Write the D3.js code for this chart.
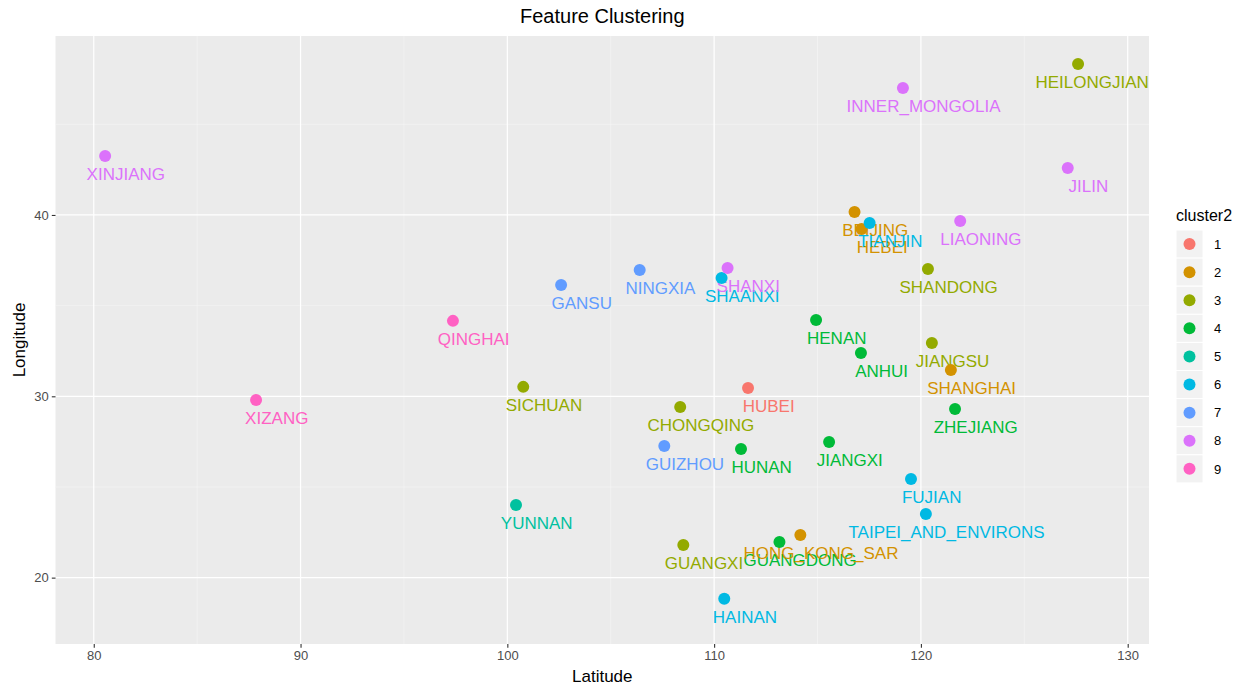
<!DOCTYPE html>
<html>
<head>
<meta charset="utf-8">
<script src="https://cdn.jsdelivr.net/npm/d3@7"></script>
<style>
  body { margin: 0; background: #fff; }
  svg text { font-family: "Liberation Sans", Arial, sans-serif; }
</style>
</head>
<body>
<svg id="chart" width="1247" height="689"></svg>
<script>
// provinces with their position and cluster
const provinces = ["XINJIANG", "XIZANG", "QINGHAI", "GANSU", "NINGXIA", "SHAANXI", "SHANXI",
	"SICHUAN", "CHONGQING", "GUIZHOU", "YUNNAN", "GUANGXI", "HAINAN", "GUANGDONG",
	"HONG_KONG_SAR", "HUNAN", "HUBEI", "JIANGXI", "HENAN", "ANHUI", "FUJIAN",
	"TAIPEI_AND_ENVIRONS", "ZHEJIANG", "SHANGHAI", "JIANGSU", "SHANDONG", "BEIJING",
	"HEBEI", "TIANJIN", "LIAONING", "INNER_MONGOLIA", "HEILONGJIANG", "JILIN"];
const latitude = [80.55, 87.85, 97.37, 102.6, 106.4, 110.36, 110.65,
	100.77, 108.36, 107.59, 100.42, 108.51, 110.49, 113.16,
	114.17, 111.3, 111.64, 115.56, 114.93, 117.1, 119.52,
	120.24, 121.65, 121.45, 120.53, 120.34, 116.79,
	117.13, 117.52, 121.9, 119.13, 127.6, 127.1];
const longitude = [43.25, 29.8, 34.16, 36.14, 36.97, 36.53, 37.08,
	30.52, 29.41, 27.26, 24.01, 21.8, 18.83, 21.97,
	22.35, 27.1, 30.46, 27.48, 34.21, 32.39, 25.44,
	23.51, 29.3, 31.45, 32.94, 37.02, 40.17,
	39.23, 39.56, 39.67, 47.0, 48.33, 42.59];
const cluster = [8, 9, 9, 7, 7, 6, 8,
	3, 3, 7, 5, 3, 6, 4,
	2, 4, 1, 4, 4, 4, 6,
	6, 4, 2, 3, 3, 2,
	2, 6, 8, 8, 3, 8];

const clusters = [1, 2, 3, 4, 5, 6, 7, 8, 9];
const palette = ["#F8766D", "#D39200", "#93AA00", "#00BA38", "#00C19F", "#00B9E3", "#619CFF", "#DB72FB", "#FF61C3"];
const xTicks = [80, 90, 100, 110, 120, 130];
const yTicks = [20, 30, 40];
const xMinor = [85, 95, 105, 115, 125];
const yMinor = [25, 35, 45];

const data = provinces.map((name, i) => ({
	name: name, x: latitude[i], y: longitude[i], cluster: cluster[i]
}));

const panel = { left: 55.5, right: 1149, top: 36, bottom: 644 };

var svg = d3.select("#chart");

let x = d3.scaleLinear().domain([78.15, 131.03]).range([panel.left, panel.right]);
let y = d3.scaleLinear().domain([16.34, 49.87]).range([panel.bottom, panel.top]);
let color = d3.scaleOrdinal().domain(clusters).range(palette);

// panel background
svg.append("rect")
	.attr("x", panel.left).attr("y", panel.top)
	.attr("width", panel.right - panel.left)
	.attr("height", panel.bottom - panel.top)
	.attr("fill", "#ebebeb");

svg.append("clipPath").attr("id", "clip")
	.append("rect")
	.attr("x", panel.left).attr("y", panel.top)
	.attr("width", panel.right - panel.left)
	.attr("height", panel.bottom - panel.top);

// grid lines
const grid = svg.append("g");
grid.selectAll(".minor-x").data(xMinor).enter().append("line")
	.attr("x1", d => x(d)).attr("x2", d => x(d))
	.attr("y1", panel.top).attr("y2", panel.bottom)
	.attr("stroke", "#f7f7f7").attr("stroke-width", 0.6);
grid.selectAll(".minor-y").data(yMinor).enter().append("line")
	.attr("y1", d => y(d)).attr("y2", d => y(d))
	.attr("x1", panel.left).attr("x2", panel.right)
	.attr("stroke", "#f7f7f7").attr("stroke-width", 0.6);
grid.selectAll(".major-x").data(xTicks).enter().append("line")
	.attr("x1", d => x(d)).attr("x2", d => x(d))
	.attr("y1", panel.top).attr("y2", panel.bottom)
	.attr("stroke", "#fff").attr("stroke-width", 1.2);
grid.selectAll(".major-y").data(yTicks).enter().append("line")
	.attr("y1", d => y(d)).attr("y2", d => y(d))
	.attr("x1", panel.left).attr("x2", panel.right)
	.attr("stroke", "#fff").attr("stroke-width", 1.2);

// axes
const xAxis = svg.append("g")
	.attr("transform", `translate(0,${panel.bottom})`)
	.call(d3.axisBottom(x).tickValues(xTicks).tickSize(3.7).tickPadding(3));
const yAxis = svg.append("g")
	.attr("transform", `translate(${panel.left},0)`)
	.call(d3.axisLeft(y).tickValues(yTicks).tickSize(3.7).tickPadding(3));
for (let ax of [xAxis, yAxis]) {
	ax.select(".domain").remove();
	ax.selectAll(".tick line").attr("stroke", "#333").attr("stroke-width", 1.1);
	ax.selectAll(".tick text").attr("fill", "#4d4d4d").style("font-size", "13px")
		.style("font-family", '"Liberation Sans", Arial, sans-serif');
}

// labels then points, clipped to the panel
const plot = svg.append("g").attr("clip-path", "url(#clip)");

plot.selectAll(".label")
	.data(data)
	.enter()
	.append("text")
	.attr("class", "label")
	.attr("x", d => x(d.x + 1))
	.attr("y", d => y(d.y - 1))
	.attr("dy", "0.36em")
	.attr("text-anchor", "middle")
	.attr("fill", d => color(d.cluster))
	.style("font-size", "17px")
	.text(d => d.name);

plot.selectAll(".dot")
	.data(data)
	.enter()
	.append("circle")
	.attr("class", "dot")
	.attr("cx", d => x(d.x))
	.attr("cy", d => y(d.y))
	.attr("r", 6)
	.attr("fill", d => color(d.cluster));

// titles
svg.append("text")
	.attr("x", (panel.left + panel.right) / 2).attr("y", 23)
	.attr("text-anchor", "middle")
	.attr("fill", "#000")
	.style("font-size", "20px")
	.text("Feature Clustering");

svg.append("text")
	.attr("x", (panel.left + panel.right) / 2).attr("y", 682)
	.attr("text-anchor", "middle")
	.attr("fill", "#000")
	.style("font-size", "17px")
	.text("Latitude");

svg.append("text")
	.attr("transform", `translate(25,${(panel.top + panel.bottom) / 2}) rotate(-90)`)
	.attr("text-anchor", "middle")
	.attr("fill", "#000")
	.style("font-size", "17px")
	.text("Longitude");

// legend
const legend = svg.append("g").attr("transform", "translate(1176,230)");
legend.append("text")
	.attr("x", 0).attr("y", -9)
	.attr("fill", "#000")
	.style("font-size", "16px")
	.text("cluster2");

const keyH = 28.1;
const keys = legend.selectAll(".key")
	.data(clusters)
	.enter()
	.append("g")
	.attr("class", "key")
	.attr("transform", (d, i) => `translate(0,${i * keyH})`);
keys.append("rect")
	.attr("width", 27).attr("height", keyH)
	.attr("fill", "#f2f2f2")
	.attr("stroke", "#fff").attr("stroke-width", 1);
keys.append("circle")
	.attr("cx", 13.5).attr("cy", keyH / 2)
	.attr("r", 6)
	.attr("fill", d => color(d));
keys.append("text")
	.attr("x", 38).attr("y", keyH / 2)
	.attr("dy", "0.36em")
	.attr("fill", "#000")
	.style("font-size", "13px")
	.text(d => d);
</script>
</body>
</html>
